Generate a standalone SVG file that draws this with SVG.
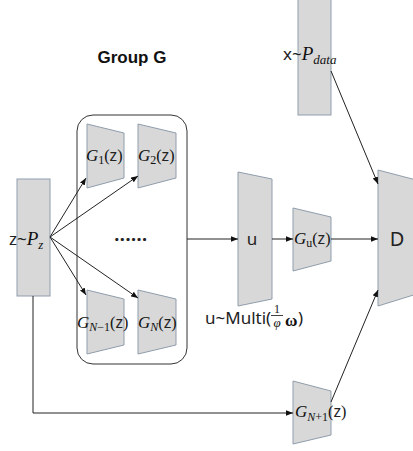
<svg xmlns="http://www.w3.org/2000/svg" width="413" height="451" viewBox="0 0 413 451">
<style>
.shape{fill:#d8d8d8;stroke:#8f9dac;stroke-width:1}
.edge{fill:none;stroke:#222;stroke-width:1}
.sans{font-family:"Noto Sans","Liberation Sans",sans-serif;fill:#222}
.math{font-family:"Liberation Serif","DejaVu Serif",serif;font-style:italic;fill:#111}
.up{font-family:"Liberation Serif","DejaVu Serif",serif;font-style:normal;fill:#111}
.title{font-family:"Liberation Sans","Noto Sans",sans-serif;font-weight:bold;font-size:17px;fill:#111}
</style>
<defs>
<marker id="arr" viewBox="0 0 10 10" refX="10" refY="5" markerWidth="7" markerHeight="7" markerUnits="userSpaceOnUse" orient="auto">
<path d="M0,1 L10,5 L0,9 z" fill="#111"/>
</marker>
</defs>
<rect width="413" height="451" fill="#fff"/>

<text class="title" x="132" y="63" text-anchor="middle">Group G</text>

<g id="group">
<rect x="77" y="115" width="110" height="249" rx="16" ry="16" fill="none" stroke="#333" stroke-width="1"/>
<text class="sans" x="131" y="241" text-anchor="middle" font-size="18" font-weight="bold" letter-spacing="0.5">......</text>
</g>

<g id="xdata">
<rect class="shape" x="298" y="-2" width="33" height="117"/>
<text x="283" y="60" font-size="17"><tspan class="sans">x~</tspan><tspan class="math" font-size="19">P</tspan><tspan class="math" font-size="13" dy="4">data</tspan></text>
</g>

<g id="zpz">
<rect class="shape" x="17" y="179" width="33" height="117"/>
<text x="9" y="245" font-size="17"><tspan class="sans">z~</tspan><tspan class="math" font-size="19">P</tspan><tspan class="math" font-size="13" dy="4">z</tspan></text>
</g>

<g id="G1">
<polygon class="shape" points="87,124 124,133 124,178 87,188"/>
<text x="86" y="161" font-size="16"><tspan class="math" font-size="17">G</tspan><tspan class="up" font-size="12" dy="3">1</tspan><tspan class="up" dy="-3">(</tspan><tspan class="sans">z</tspan><tspan class="up">)</tspan></text>
</g>

<g id="G2">
<polygon class="shape" points="138,124 176,133 176,178 138,188"/>
<text x="138" y="161" font-size="16"><tspan class="math" font-size="17">G</tspan><tspan class="up" font-size="12" dy="3">2</tspan><tspan class="up" dy="-3">(</tspan><tspan class="sans">z</tspan><tspan class="up">)</tspan></text>
</g>

<g id="GN1">
<polygon class="shape" points="87,290 124,299 124,345 87,354"/>
<text x="77" y="328" font-size="16"><tspan class="math" font-size="17">G</tspan><tspan class="math" font-size="12" dy="3">N</tspan><tspan class="up" font-size="12">−1</tspan><tspan class="up" dy="-3">(</tspan><tspan class="sans">z</tspan><tspan class="up">)</tspan></text>
</g>

<g id="GN">
<polygon class="shape" points="138,290 176,299 176,345 138,354"/>
<text x="138" y="328" font-size="16"><tspan class="math" font-size="17">G</tspan><tspan class="math" font-size="12" dy="3">N</tspan><tspan class="up" dy="-3">(</tspan><tspan class="sans">z</tspan><tspan class="up">)</tspan></text>
</g>

<g id="u">
<polygon class="shape" points="238,172 272,179 272,299 238,306"/>
<text class="sans" x="252" y="245" font-size="17" text-anchor="middle">u</text>
<text x="205" y="324" font-size="17"><tspan class="sans">u~Multi(</tspan></text>
<text class="up" x="277" y="313" font-size="12" text-anchor="middle">1</text>
<line x1="271" y1="315.5" x2="283" y2="315.5" stroke="#111" stroke-width="0.8"/>
<text class="math" x="277" y="327" font-size="13" text-anchor="middle">φ</text>
<text class="up" x="285" y="326" font-size="17" font-weight="bold">ω</text>
<text class="sans" x="298" y="324" font-size="17">)</text>
</g>

<g id="Gu">
<polygon class="shape" points="293,208 331,217 331,261 293,271"/>
<text x="294" y="244" font-size="16"><tspan class="math" font-size="17">G</tspan><tspan class="up" font-size="12" dy="3">u</tspan><tspan class="up" dy="-3">(</tspan><tspan class="sans">z</tspan><tspan class="up">)</tspan></text>
</g>

<g id="GN1p">
<polygon class="shape" points="293,381 331,391 331,435 293,444"/>
<text x="295" y="417" font-size="16"><tspan class="math" font-size="17">G</tspan><tspan class="math" font-size="12" dy="4">N</tspan><tspan class="up" font-size="12">+1</tspan><tspan class="up" dy="-4">(</tspan><tspan class="sans">z</tspan><tspan class="up">)</tspan></text>
</g>

<g id="D">
<polygon class="shape" points="378,170 420,181 420,293 378,306"/>
<text class="sans" x="397" y="246" font-size="20" text-anchor="middle">D</text>
</g>

<g id="connectors">
<line class="edge" x1="50" y1="237" x2="86" y2="178" marker-end="url(#arr)"/>
<line class="edge" x1="50" y1="237" x2="138" y2="176" marker-end="url(#arr)"/>
<line class="edge" x1="50" y1="237" x2="86" y2="295" marker-end="url(#arr)"/>
<line class="edge" x1="50" y1="237" x2="138" y2="298" marker-end="url(#arr)"/>
<line class="edge" x1="187" y1="239" x2="238" y2="239" marker-end="url(#arr)"/>
<line class="edge" x1="272" y1="239" x2="293" y2="239" marker-end="url(#arr)"/>
<line class="edge" x1="331" y1="239" x2="378" y2="239" marker-end="url(#arr)"/>
<line class="edge" x1="331" y1="71" x2="378" y2="184" marker-end="url(#arr)"/>
<line class="edge" x1="331" y1="402" x2="378" y2="290" marker-end="url(#arr)"/>
<polyline class="edge" points="33,296 33,413 293,413" marker-end="url(#arr)"/>
</g>
</svg>
